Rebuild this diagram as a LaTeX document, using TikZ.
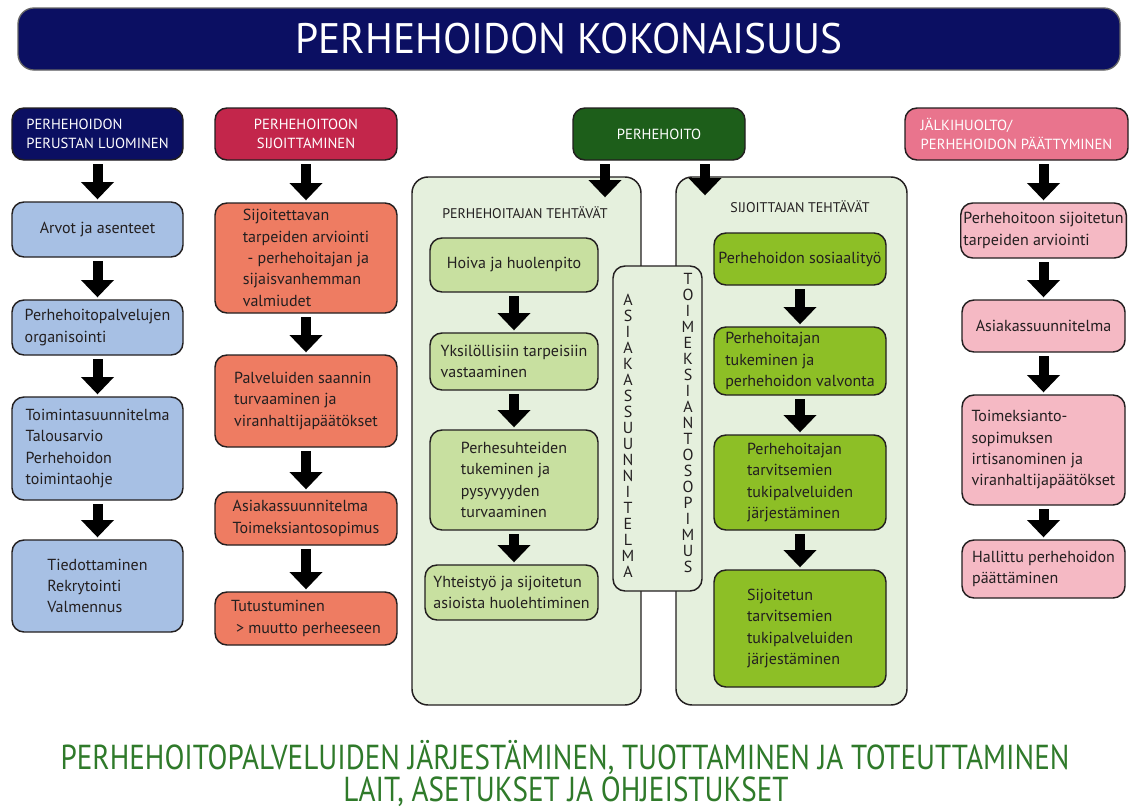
\documentclass[tikz,border=0pt]{standalone}
\usepackage{fontspec}
\setmainfont{PT Sans}
\newfontfamily\condensed[FakeStretch=0.84]{PT Sans}
\newfontfamily\titlefont[FakeStretch=0.97]{PT Sans}
\usetikzlibrary{arrows.meta}
\definecolor{navy}{HTML}{0B0F62}
\definecolor{crimson}{HTML}{C3264B}
\definecolor{dgreen}{HTML}{1D5E1A}
\definecolor{hpink}{HTML}{E9748D}
\definecolor{lblue}{HTML}{A7C0E4}
\definecolor{salmon}{HTML}{EE7C62}
\definecolor{lgreen}{HTML}{C8E0A0}
\definecolor{bgreen}{HTML}{8DBF26}
\definecolor{lpink}{HTML}{F5B9C4}
\definecolor{panelg}{HTML}{E5F0DD}
\definecolor{txtg}{HTML}{2F7A2A}
\definecolor{ink}{HTML}{231F20}
\newcommand{\bx}[7]{\node[#6, minimum width={(#4-#2)*0.75pt}, minimum height={(#5-#3)*0.75pt}] (#1) at ({(#2+#4)/2},{(#3+#5)/2}) {#7};}
\tikzset{
  box/.style={draw=ink, line width=1.1pt, rounded corners=9pt, outer sep=0pt, inner sep=2pt, align=left, text=ink, font=\fontsize{12}{16}\selectfont},
  hdr/.style={box, text=white, font=\fontsize{11}{14}\selectfont},
  panel/.style={draw=ink, line width=1.1pt, rounded corners=12pt, fill=panelg, outer sep=0pt},
  blockarrow/.style={line width=7.5pt, -{Triangle[width=24pt,length=13pt]}, shorten <=3pt, shorten >=2pt, draw=black},
  ptitle/.style={text=ink, font=\fontsize{10.5}{13}\selectfont},
  vletters/.style={text=ink, align=center, font=\fontsize{12}{12}\selectfont, inner sep=0pt},
  foot/.style={text=txtg, font=\condensed\fontsize{26}{30}\selectfont}
}
\begin{document}
\begin{tikzpicture}[x=0.75pt,y=-0.75pt]
\useasboundingbox[fill=white] (0,0) rectangle (1140,810);
% title
\bx{title}{18}{8}{1120}{70}{draw=black!60, line width=1pt, rounded corners=12pt, fill=navy, outer sep=0pt, text=white, font=\titlefont\fontsize{32}{36}\selectfont}{PERHEHOIDON KOKONAISUUS}
% column 1
\bx{h1}{12}{108}{183}{160}{hdr, fill=navy}{PERHEHOIDON\\PERUSTAN LUOMINEN}
\bx{a1}{12}{202}{183}{257}{box, fill=lblue}{Arvot ja asenteet}
\bx{a2}{12}{300}{183}{355}{box, fill=lblue}{Perhehoitopalvelujen\\organisointi}
\bx{a3}{12}{397}{183}{500}{box, fill=lblue}{Toimintasuunnitelma\\Talousarvio\\Perhehoidon\\toimintaohje}
\bx{a4}{12}{540}{183}{632}{box, fill=lblue}{Tiedottaminen\\Rekrytointi\\Valmennus}
\draw[blockarrow] (h1) -- (a1);
\draw[blockarrow] (a1) -- (a2);
\draw[blockarrow] (a2) -- (a3);
\draw[blockarrow] (a3) -- (a4);
% column 2
\bx{h2}{215}{108}{397}{160}{hdr, fill=crimson, align=center}{PERHEHOITOON\\SIJOITTAMINEN}
\bx{b1}{215}{203}{397}{313}{box, fill=salmon}{Sijoitettavan\\tarpeiden arviointi\\\hspace{0.3em}- perhehoitajan ja\\sijaisvanhemman\\valmiudet}
\bx{b2}{215}{355}{397}{447}{box, fill=salmon}{Palveluiden saannin\\turvaaminen ja\\viranhaltijapäätökset}
\bx{b3}{215}{492}{397}{545}{box, fill=salmon}{Asiakassuunnitelma\\Toimeksiantosopimus}
\bx{b4}{215}{592}{397}{645}{box, fill=salmon}{Tutustuminen\\\hspace{0.3em}> muutto perheeseen}
\draw[blockarrow] (h2) -- (b1);
\draw[blockarrow] (b1) -- (b2);
\draw[blockarrow] (b2) -- (b3);
\draw[blockarrow] (b3) -- (b4);
% column 3
\bx{ph}{573}{108}{745}{160}{hdr, fill=dgreen, align=center}{PERHEHOITO}
\bx{p1}{412}{177}{641}{705}{panel}{}
\bx{p2}{676}{177}{907}{705}{panel}{}
\node[ptitle] (p1t) at (525,213) {PERHEHOITAJAN TEHTÄVÄT};
\node[ptitle] (p2t) at (800,207) {SIJOITTAJAN TEHTÄVÄT};
\bx{c1}{430}{238}{598}{292}{box, fill=lgreen}{Hoiva ja huolenpito}
\bx{c2}{430}{333}{598}{390}{box, fill=lgreen}{Yksilöllisiin tarpeisiin\\vastaaminen}
\bx{c3}{430}{430}{598}{530}{box, fill=lgreen}{Perhesuhteiden\\tukeminen ja\\pysyvyyden\\turvaaminen}
\bx{c4}{425}{565}{598}{620}{box, fill=lgreen}{Yhteistyö ja sijoitetun\\asioista huolehtiminen}
\draw[blockarrow] (c1) -- (c2);
\draw[blockarrow] (c2) -- (c3);
\draw[blockarrow] (c3.south) -- (c3.south |- c4.north);
\bx{d1}{714}{233}{886}{285}{box, fill=bgreen}{Perhehoidon sosiaalityö}
\bx{d2}{714}{327}{886}{395}{box, fill=bgreen}{Perhehoitajan\\tukeminen ja\\perhehoidon valvonta}
\bx{d3}{714}{435}{886}{530}{box, fill=bgreen}{Perhehoitajan\\tarvitsemien\\tukipalveluiden\\järjestäminen}
\bx{d4}{714}{570}{886}{687}{box, fill=bgreen}{Sijoitetun\\tarvitsemien\\tukipalveluiden\\järjestäminen}
\draw[blockarrow] (d1) -- (d2);
\draw[blockarrow] (d2) -- (d3);
\draw[blockarrow] (d3) -- (d4);
\bx{v}{613}{266}{702}{591}{draw=ink, line width=1.1pt, rounded corners=9pt, fill=panelg, outer sep=0pt}{}
\node[vletters] (v1) at (628,436) {A\\S\\I\\A\\K\\A\\S\\S\\U\\U\\N\\N\\I\\T\\E\\L\\M\\A};
\node[vletters] (v2) at (688,423) {T\\O\\I\\M\\E\\K\\S\\I\\A\\N\\T\\O\\S\\O\\P\\I\\M\\U\\S};
\coordinate (t1) at (605,200);
\coordinate (t2) at (705,198);
\draw[blockarrow] (ph.south -| t1) -- (t1);
\draw[blockarrow] (ph.south -| t2) -- (t2);
% column 4
\bx{h4}{905}{108}{1128}{160}{hdr, fill=hpink}{JÄLKIHUOLTO/\\PERHEHOIDON PÄÄTTYMINEN}
\bx{e1}{962}{203}{1125}{258}{box, fill=lpink}{Perhehoitoon sijoitetun\\tarpeiden arviointi}
\bx{e2}{962}{300}{1125}{352}{box, fill=lpink}{Asiakassuunnitelma}
\bx{e3}{962}{395}{1125}{505}{box, fill=lpink}{Toimeksianto-\\sopimuksen\\irtisanominen ja\\viranhaltijapäätökset}
\bx{e4}{962}{540}{1125}{598}{box, fill=lpink}{Hallittu perhehoidon\\päättäminen}
\draw[blockarrow] (h4.south -| e1.north) -- (e1.north);
\draw[blockarrow] (e1) -- (e2);
\draw[blockarrow] (e2) -- (e3);
\draw[blockarrow] (e3) -- (e4);
% bottom text
\node[foot] (f1) at (565,757) {PERHEHOITOPALVELUIDEN JÄRJESTÄMINEN, TUOTTAMINEN JA TOTEUTTAMINEN};
\node[foot] (f2) at (566,792) {LAIT, ASETUKSET JA OHJEISTUKSET};
\end{tikzpicture}
\end{document}
